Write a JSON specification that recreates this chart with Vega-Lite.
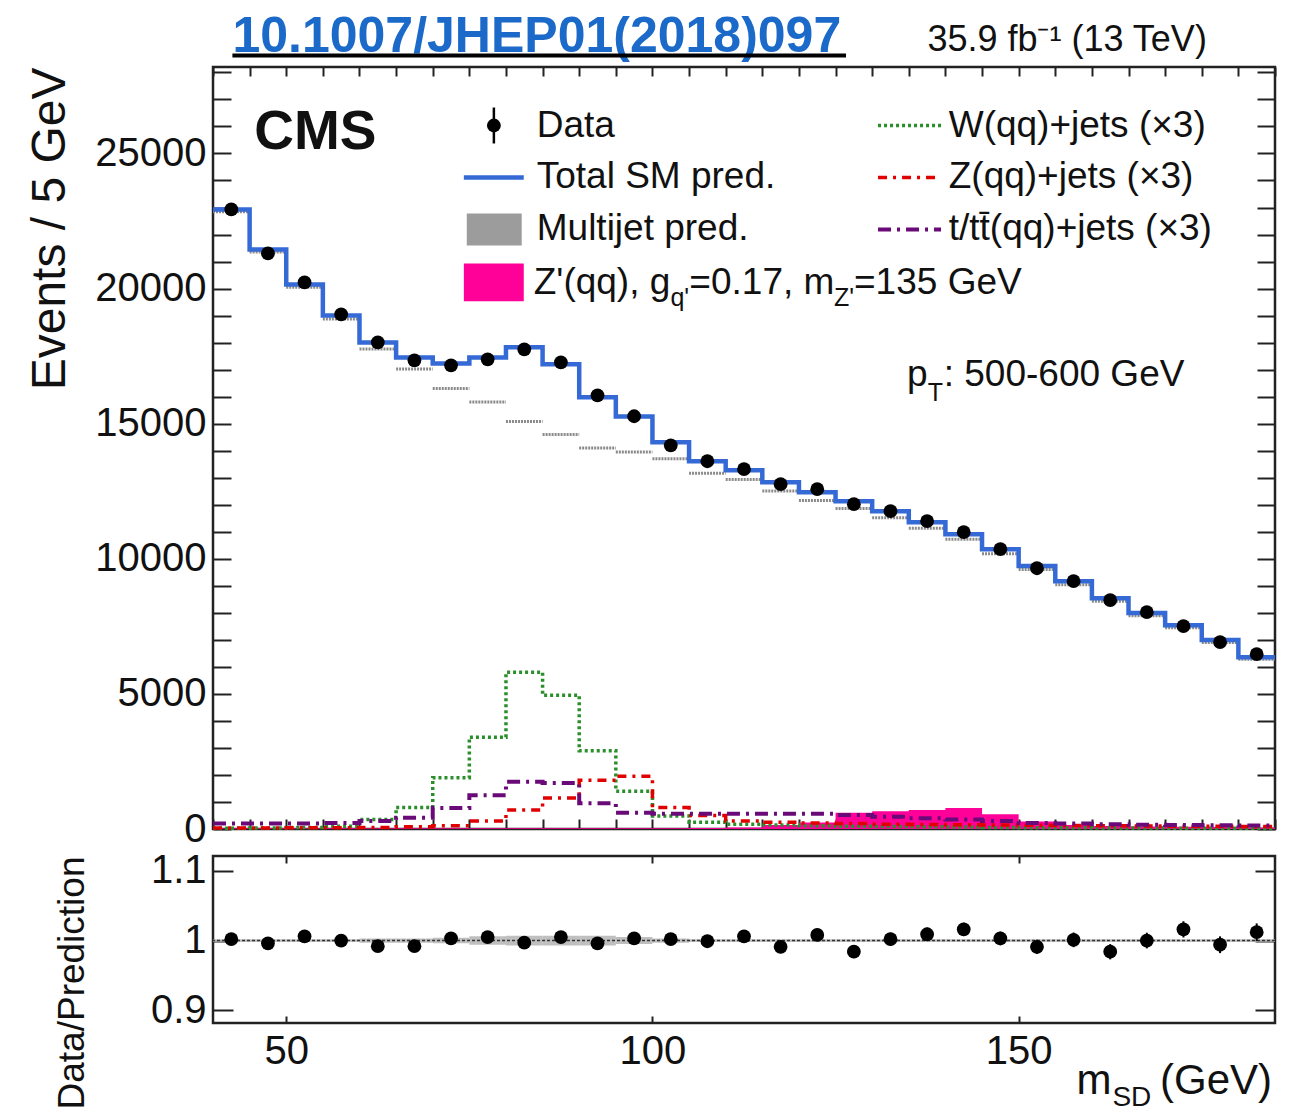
{
  "$schema": "https://vega.github.io/schema/vega-lite/v6.json",
  "padding": {"left": 24, "top": 10, "right": 5, "bottom": 0},
  "config": {
    "font": "Liberation Sans",
    "view": {"stroke": "#222", "strokeWidth": 2.5},
    "axis": {"domain": false, "grid": false, "tickColor": "#222", "tickWidth": 2, "labelFont": "Liberation Sans", "labelFontSize": 40, "labelColor": "#111", "titleFont": "Liberation Sans", "titleFontWeight": "normal", "titleColor": "#111", "labelFlush": false, "labelOverlap": false, "zindex": 1, "minExtent": 0},
    "text": {"color": "#111"}
  },
  "datasets": {
    "points": [
      {"m": 42.5, "n": 22930, "err": 151, "r": 1.002, "rerr": 0.0066},
      {"m": 47.5, "n": 21300, "err": 146, "r": 0.996, "rerr": 0.0069},
      {"m": 52.5, "n": 20230, "err": 142, "r": 1.006, "rerr": 0.0070},
      {"m": 57.5, "n": 19045, "err": 138, "r": 1.000, "rerr": 0.0073},
      {"m": 62.5, "n": 18010, "err": 134, "r": 0.992, "rerr": 0.0075},
      {"m": 67.5, "n": 17345, "err": 132, "r": 0.992, "rerr": 0.0076},
      {"m": 72.5, "n": 17160, "err": 131, "r": 1.003, "rerr": 0.0077},
      {"m": 77.5, "n": 17380, "err": 132, "r": 1.005, "rerr": 0.0078},
      {"m": 82.5, "n": 17750, "err": 133, "r": 0.997, "rerr": 0.0080},
      {"m": 87.5, "n": 17270, "err": 131, "r": 1.005, "rerr": 0.0080},
      {"m": 92.5, "n": 16050, "err": 127, "r": 0.996, "rerr": 0.0080},
      {"m": 97.5, "n": 15275, "err": 124, "r": 1.003, "rerr": 0.0081},
      {"m": 102.5, "n": 14200, "err": 119, "r": 1.002, "rerr": 0.0084},
      {"m": 107.5, "n": 13610, "err": 117, "r": 0.999, "rerr": 0.0086},
      {"m": 112.5, "n": 13315, "err": 115, "r": 1.006, "rerr": 0.0087},
      {"m": 117.5, "n": 12760, "err": 113, "r": 0.991, "rerr": 0.0089},
      {"m": 122.5, "n": 12575, "err": 112, "r": 1.008, "rerr": 0.0090},
      {"m": 127.5, "n": 12020, "err": 110, "r": 0.984, "rerr": 0.0091},
      {"m": 132.5, "n": 11760, "err": 108, "r": 1.002, "rerr": 0.0093},
      {"m": 137.5, "n": 11390, "err": 107, "r": 1.009, "rerr": 0.0094},
      {"m": 142.5, "n": 10985, "err": 105, "r": 1.016, "rerr": 0.0096},
      {"m": 147.5, "n": 10355, "err": 102, "r": 1.003, "rerr": 0.0098},
      {"m": 152.5, "n": 9650, "err": 98, "r": 0.991, "rerr": 0.0102},
      {"m": 157.5, "n": 9170, "err": 96, "r": 1.001, "rerr": 0.0105},
      {"m": 162.5, "n": 8470, "err": 92, "r": 0.984, "rerr": 0.0109},
      {"m": 167.5, "n": 8025, "err": 90, "r": 1.000, "rerr": 0.0112},
      {"m": 172.5, "n": 7510, "err": 87, "r": 1.016, "rerr": 0.0116},
      {"m": 177.5, "n": 6915, "err": 83, "r": 0.994, "rerr": 0.0120},
      {"m": 182.5, "n": 6470, "err": 80, "r": 1.012, "rerr": 0.0125}
    ],
    "hist": [
      {"lo": 40, "hi": 45, "total": 22930, "mj": 22840, "w": 30, "z": 40, "t": 200, "zp": 30, "ulo": 0.998, "uhi": 1.002},
      {"lo": 45, "hi": 50, "total": 21450, "mj": 21355, "w": 40, "z": 40, "t": 200, "zp": 30, "ulo": 0.998, "uhi": 1.002},
      {"lo": 50, "hi": 55, "total": 20150, "mj": 20050, "w": 60, "z": 50, "t": 200, "zp": 30, "ulo": 0.998, "uhi": 1.002},
      {"lo": 55, "hi": 60, "total": 19000, "mj": 18875, "w": 100, "z": 50, "t": 220, "zp": 30, "ulo": 0.998, "uhi": 1.002},
      {"lo": 60, "hi": 65, "total": 18000, "mj": 17765, "w": 350, "z": 60, "t": 300, "zp": 30, "ulo": 0.997, "uhi": 1.003},
      {"lo": 65, "hi": 70, "total": 17450, "mj": 17020, "w": 800, "z": 80, "t": 420, "zp": 30, "ulo": 0.997, "uhi": 1.003},
      {"lo": 70, "hi": 75, "total": 17230, "mj": 16300, "w": 1900, "z": 120, "t": 780, "zp": 30, "ulo": 0.996, "uhi": 1.004},
      {"lo": 75, "hi": 80, "total": 17450, "mj": 15800, "w": 3400, "z": 300, "t": 1250, "zp": 30, "ulo": 0.994, "uhi": 1.006},
      {"lo": 80, "hi": 85, "total": 17830, "mj": 15080, "w": 5800, "z": 700, "t": 1750, "zp": 30, "ulo": 0.993, "uhi": 1.007},
      {"lo": 85, "hi": 90, "total": 17200, "mj": 14600, "w": 4950, "z": 1150, "t": 1700, "zp": 30, "ulo": 0.993, "uhi": 1.007},
      {"lo": 90, "hi": 95, "total": 15980, "mj": 14100, "w": 2900, "z": 1800, "t": 950, "zp": 30, "ulo": 0.993, "uhi": 1.007},
      {"lo": 95, "hi": 100, "total": 15270, "mj": 13950, "w": 1400, "z": 1950, "t": 600, "zp": 30, "ulo": 0.995, "uhi": 1.005},
      {"lo": 100, "hi": 105, "total": 14310, "mj": 13700, "w": 480, "z": 800, "t": 560, "zp": 30, "ulo": 0.997, "uhi": 1.003},
      {"lo": 105, "hi": 110, "total": 13610, "mj": 13170, "w": 250, "z": 500, "t": 560, "zp": 40, "ulo": 0.998, "uhi": 1.002},
      {"lo": 110, "hi": 115, "total": 13280, "mj": 12930, "w": 180, "z": 300, "t": 560, "zp": 60, "ulo": 0.998, "uhi": 1.002},
      {"lo": 115, "hi": 120, "total": 12830, "mj": 12510, "w": 150, "z": 250, "t": 560, "zp": 150, "ulo": 0.998, "uhi": 1.002},
      {"lo": 120, "hi": 125, "total": 12460, "mj": 12160, "w": 120, "z": 220, "t": 560, "zp": 240, "ulo": 0.998, "uhi": 1.002},
      {"lo": 125, "hi": 130, "total": 12130, "mj": 11860, "w": 100, "z": 200, "t": 520, "zp": 600, "ulo": 0.998, "uhi": 1.002},
      {"lo": 130, "hi": 135, "total": 11760, "mj": 11520, "w": 90, "z": 180, "t": 450, "zp": 660, "ulo": 0.998, "uhi": 1.002},
      {"lo": 135, "hi": 140, "total": 11350, "mj": 11130, "w": 80, "z": 170, "t": 400, "zp": 700, "ulo": 0.998, "uhi": 1.002},
      {"lo": 140, "hi": 145, "total": 10910, "mj": 10720, "w": 70, "z": 160, "t": 350, "zp": 780, "ulo": 0.998, "uhi": 1.002},
      {"lo": 145, "hi": 150, "total": 10355, "mj": 10185, "w": 60, "z": 150, "t": 300, "zp": 550, "ulo": 0.998, "uhi": 1.002},
      {"lo": 150, "hi": 155, "total": 9730, "mj": 9600, "w": 50, "z": 140, "t": 220, "zp": 280, "ulo": 0.998, "uhi": 1.002},
      {"lo": 155, "hi": 160, "total": 9170, "mj": 9040, "w": 50, "z": 130, "t": 200, "zp": 150, "ulo": 0.998, "uhi": 1.002},
      {"lo": 160, "hi": 165, "total": 8540, "mj": 8425, "w": 40, "z": 120, "t": 180, "zp": 110, "ulo": 0.998, "uhi": 1.002},
      {"lo": 165, "hi": 170, "total": 7990, "mj": 7890, "w": 40, "z": 110, "t": 160, "zp": 90, "ulo": 0.998, "uhi": 1.002},
      {"lo": 170, "hi": 175, "total": 7540, "mj": 7450, "w": 30, "z": 100, "t": 150, "zp": 80, "ulo": 0.998, "uhi": 1.002},
      {"lo": 175, "hi": 180, "total": 6990, "mj": 6900, "w": 30, "z": 100, "t": 140, "zp": 70, "ulo": 0.998, "uhi": 1.002},
      {"lo": 180, "hi": 185, "total": 6360, "mj": 6280, "w": 30, "z": 90, "t": 130, "zp": 60, "ulo": 0.998, "uhi": 1.002},
      {"lo": 185, "hi": 190, "total": 6360, "mj": 6280, "w": 30, "z": 90, "t": 130, "zp": 60, "ulo": 0.998, "uhi": 1.002}
    ]
  },
  "bounds": "flush",
  "spacing": 27,
  "vconcat": [
    {
      "width": 1062,
      "height": 762,
      "resolve": {"axis": {"x": "independent", "y": "independent"}},
      "layer": [
        {
          "data": {"values": [{}]},
          "layer": [
            {
              "data": {"name": "hist"},
              "mark": {"type": "area", "interpolate": "step-after", "color": "#ff0099", "opacity": 1},
              "encoding": {
                "x": {"field": "lo", "type": "quantitative", "scale": {"domain": [40, 185], "nice": false, "zero": false},
                  "axis": {"orient": "bottom", "values": [40,45,50,55,60,65,70,75,80,85,90,95,100,105,110,115,120,125,130,135,140,145,150,155,160,165,170,175,180,185], "tickCount": 200, "labels": false, "title": null, "tickSize": -10,
                    "encode": {"ticks": {"y2": {"condition": {"test": "datum.value % 20 === 0", "value": -20}, "value": -10}}}}},
                "y": {"field": "zp", "type": "quantitative", "scale": {"domain": [0, 28200], "nice": false, "zero": false},
                  "axis": {"orient": "left", "values": [0,1000,2000,3000,4000,5000,6000,7000,8000,9000,10000,11000,12000,13000,14000,15000,16000,17000,18000,19000,20000,21000,22000,23000,24000,25000,26000,27000,28000], "tickCount": 200, "format": "d",
                    "labelExpr": "datum.value % 5000 === 0 ? datum.label : ''", "labelOverlap": false,
                    "tickSize": -18, "labelPadding": 25,
                    "title": "Events / 5 GeV", "titleFontSize": 48, "titleX": -163, "titleY": 0, "titleAngle": -90, "titleAlign": "right", "titleBaseline": "middle",
                    "encode": {"ticks": {"x2": {"condition": {"test": "datum.value % 5000 === 0", "value": 35}, "value": 18}}}}}
              }
            },
            {
              "data": {"name": "hist"},
              "transform": [{"filter": "datum.lo < 185"}],
              "mark": {"type": "rule", "color": "#8a8a8a", "strokeWidth": 3, "strokeDash": [2, 1]},
              "encoding": {
                "x": {"field": "lo", "type": "quantitative"},
                "x2": {"field": "hi"},
                "y": {"field": "mj", "type": "quantitative"}
              }
            },
            {
              "data": {"name": "hist"},
              "mark": {"type": "line", "interpolate": "step-after", "color": "#2a8f2a", "strokeWidth": 3.5, "strokeDash": [3, 3]},
              "encoding": {
                "x": {"field": "lo", "type": "quantitative"},
                "y": {"field": "w", "type": "quantitative"}
              }
            },
            {
              "data": {"name": "hist"},
              "mark": {"type": "line", "interpolate": "step-after", "color": "#e00000", "strokeWidth": 3.5, "strokeDash": [9, 6, 3, 6]},
              "encoding": {
                "x": {"field": "lo", "type": "quantitative"},
                "y": {"field": "z", "type": "quantitative"}
              }
            },
            {
              "data": {"name": "hist"},
              "mark": {"type": "line", "interpolate": "step-after", "color": "#6a0a78", "strokeWidth": 4, "strokeDash": [13, 6, 3, 6]},
              "encoding": {
                "x": {"field": "lo", "type": "quantitative"},
                "y": {"field": "t", "type": "quantitative"}
              }
            },
            {
              "data": {"name": "hist"},
              "mark": {"type": "line", "interpolate": "step-after", "color": "#356ad6", "strokeWidth": 4.5},
              "encoding": {
                "x": {"field": "lo", "type": "quantitative"},
                "y": {"field": "total", "type": "quantitative"}
              }
            },
            {
              "data": {"name": "points"},
              "mark": {"type": "errorbar", "color": "#000", "thickness": 2},
              "encoding": {
                "x": {"field": "m", "type": "quantitative", "title": null},
                "y": {"field": "n", "type": "quantitative", "title": "Events / 5 GeV"},
                "yError": {"field": "err"}
              }
            },
            {
              "mark": {"type": "text", "text": "10.1007/JHEP01(2018)097", "fontSize": 50, "fontWeight": "bold", "color": "#1b6ac9", "align": "left", "baseline": "alphabetic"},
              "encoding": {"x": {"datum": 42.65, "type": "quantitative"}, "y": {"datum": 28772, "type": "quantitative"}}
            },
            {
              "mark": {"type": "rule", "color": "#000", "strokeWidth": 4},
              "encoding": {"x": {"datum": 42.65, "type": "quantitative"}, "x2": {"datum": 126.43}, "y": {"datum": 28624, "type": "quantitative"}}
            },
            {
              "mark": {"type": "text", "text": "35.9 fb⁻¹ (13 TeV)", "fontSize": 36, "align": "right", "baseline": "alphabetic"},
              "encoding": {"x": {"datum": 175.7, "type": "quantitative"}, "y": {"datum": 28800, "type": "quantitative"}}
            },
            {
              "mark": {"type": "text", "text": "CMS", "fontSize": 55, "fontWeight": "bold", "align": "left", "baseline": "alphabetic"},
              "encoding": {"x": {"datum": 45.64, "type": "quantitative"}, "y": {"datum": 25148, "type": "quantitative"}}
            },
            {
              "mark": {"type": "rule", "color": "#000", "strokeWidth": 2.5},
              "encoding": {"x": {"datum": 78.35, "type": "quantitative"}, "y": {"datum": 25370, "type": "quantitative"}, "y2": {"datum": 26700}}
            },
            {
              "mark": {"type": "circle", "size": 190, "color": "#000", "opacity": 1},
              "encoding": {"x": {"datum": 78.35, "type": "quantitative"}, "y": {"datum": 26035, "type": "quantitative"}}
            },
            {
              "mark": {"type": "rule", "color": "#356ad6", "strokeWidth": 4.5},
              "encoding": {"x": {"datum": 74.25, "type": "quantitative"}, "x2": {"datum": 82.43}, "y": {"datum": 24112, "type": "quantitative"}}
            },
            {
              "mark": {"type": "rect", "color": "#9c9c9c", "opacity": 1},
              "encoding": {"x": {"datum": 74.65, "type": "quantitative"}, "x2": {"datum": 82.15}, "y": {"datum": 21598, "type": "quantitative"}, "y2": {"datum": 22781}}
            },
            {
              "mark": {"type": "rect", "color": "#ff0099", "opacity": 1},
              "encoding": {"x": {"datum": 74.25, "type": "quantitative"}, "x2": {"datum": 82.43}, "y": {"datum": 19527, "type": "quantitative"}, "y2": {"datum": 20932}}
            },
            {
              "mark": {"type": "rule", "color": "#2a8f2a", "strokeWidth": 3.5, "strokeDash": [3, 3]},
              "encoding": {"x": {"datum": 130.8, "type": "quantitative"}, "x2": {"datum": 139.4}, "y": {"datum": 26035, "type": "quantitative"}}
            },
            {
              "mark": {"type": "rule", "color": "#e00000", "strokeWidth": 3.5, "strokeDash": [9, 6, 3, 6]},
              "encoding": {"x": {"datum": 130.8, "type": "quantitative"}, "x2": {"datum": 139.4}, "y": {"datum": 24112, "type": "quantitative"}}
            },
            {
              "mark": {"type": "rule", "color": "#6a0a78", "strokeWidth": 4, "strokeDash": [13, 6, 3, 6]},
              "encoding": {"x": {"datum": 130.8, "type": "quantitative"}, "x2": {"datum": 139.4}, "y": {"datum": 22189, "type": "quantitative"}}
            },
            {
              "mark": {"type": "text", "text": "Data", "fontSize": 37, "align": "left", "baseline": "middle"},
              "encoding": {"x": {"datum": 84.2, "type": "quantitative"}, "y": {"datum": 26035, "type": "quantitative"}}
            },
            {
              "mark": {"type": "text", "text": "Total SM pred.", "fontSize": 37, "align": "left", "baseline": "middle"},
              "encoding": {"x": {"datum": 84.2, "type": "quantitative"}, "y": {"datum": 24112, "type": "quantitative"}}
            },
            {
              "mark": {"type": "text", "text": "Multijet pred.", "fontSize": 37, "align": "left", "baseline": "middle"},
              "encoding": {"x": {"datum": 84.2, "type": "quantitative"}, "y": {"datum": 22189, "type": "quantitative"}}
            },
            {
              "mark": {"type": "text", "text": "Z'(qq), g", "fontSize": 37, "align": "left", "baseline": "alphabetic"},
              "encoding": {"x": {"datum": 83.79, "type": "quantitative"}, "y": {"datum": 19785, "type": "quantitative"}}
            },
            {
              "mark": {"type": "text", "text": "q'", "fontSize": 25, "align": "left", "baseline": "alphabetic"},
              "encoding": {"x": {"datum": 102.45, "type": "quantitative"}, "y": {"datum": 19342, "type": "quantitative"}}
            },
            {
              "mark": {"type": "text", "text": "=0.17, m", "fontSize": 37, "align": "left", "baseline": "alphabetic"},
              "encoding": {"x": {"datum": 105.04, "type": "quantitative"}, "y": {"datum": 19785, "type": "quantitative"}}
            },
            {
              "mark": {"type": "text", "text": "Z'", "fontSize": 25, "align": "left", "baseline": "alphabetic"},
              "encoding": {"x": {"datum": 124.8, "type": "quantitative"}, "y": {"datum": 19342, "type": "quantitative"}}
            },
            {
              "mark": {"type": "text", "text": "=135 GeV", "fontSize": 37, "align": "left", "baseline": "alphabetic"},
              "encoding": {"x": {"datum": 127.52, "type": "quantitative"}, "y": {"datum": 19785, "type": "quantitative"}}
            },
            {
              "mark": {"type": "text", "text": "W(qq)+jets (×3)", "fontSize": 37, "align": "left", "baseline": "middle"},
              "encoding": {"x": {"datum": 140.45, "type": "quantitative"}, "y": {"datum": 26035, "type": "quantitative"}}
            },
            {
              "mark": {"type": "text", "text": "Z(qq)+jets (×3)", "fontSize": 37, "align": "left", "baseline": "middle"},
              "encoding": {"x": {"datum": 140.45, "type": "quantitative"}, "y": {"datum": 24112, "type": "quantitative"}}
            },
            {
              "mark": {"type": "text", "text": "t/tt̄(qq)+jets (×3)", "fontSize": 37, "align": "left", "baseline": "middle"},
              "encoding": {"x": {"datum": 140.45, "type": "quantitative"}, "y": {"datum": 22189, "type": "quantitative"}}
            },
            {
              "mark": {"type": "text", "text": "p", "fontSize": 37, "align": "left", "baseline": "alphabetic"},
              "encoding": {"x": {"datum": 134.74, "type": "quantitative"}, "y": {"datum": 16383, "type": "quantitative"}}
            },
            {
              "mark": {"type": "text", "text": "T", "fontSize": 25, "align": "left", "baseline": "alphabetic"},
              "encoding": {"x": {"datum": 137.6, "type": "quantitative"}, "y": {"datum": 15828, "type": "quantitative"}}
            },
            {
              "mark": {"type": "text", "text": ": 500-600 GeV", "fontSize": 37, "align": "left", "baseline": "alphabetic"},
              "encoding": {"x": {"datum": 139.77, "type": "quantitative"}, "y": {"datum": 16383, "type": "quantitative"}}
            }
          ]
        },
        {
          "data": {"name": "points"},
          "mark": {"type": "circle", "size": 190, "color": "#000", "opacity": 1},
          "encoding": {
            "x": {"field": "m", "type": "quantitative",
              "axis": {"orient": "top", "values": [40,45,50,55,60,65,70,75,80,85,90,95,100,105,110,115,120,125,130,135,140,145,150,155,160,165,170,175,180,185], "tickCount": 200, "labels": false, "title": null, "tickSize": -9,
                "encode": {"ticks": {"y2": {"condition": {"test": "datum.value % 20 === 0", "value": 18}, "value": 9}}}}},
            "y": {"field": "n", "type": "quantitative",
              "axis": {"orient": "right", "values": [0,1000,2000,3000,4000,5000,6000,7000,8000,9000,10000,11000,12000,13000,14000,15000,16000,17000,18000,19000,20000,21000,22000,23000,24000,25000,26000,27000,28000], "tickCount": 200, "labels": false, "title": null, "tickSize": -18,
                "encode": {"ticks": {"x2": {"condition": {"test": "datum.value % 5000 === 0", "value": -35}, "value": -18}}}}}
          }
        }
      ]
    },
    {
      "width": 1062,
      "height": 167,
      "resolve": {"axis": {"x": "independent", "y": "independent"}},
      "layer": [
        {
          "data": {"values": [{}]},
          "layer": [
            {
              "data": {"name": "hist"},
              "transform": [{"filter": "datum.lo < 185"}],
              "mark": {"type": "rect", "color": "#b4b4b4", "opacity": 0.85},
              "encoding": {
                "x": {"field": "lo", "type": "quantitative", "scale": {"domain": [40, 185], "nice": false, "zero": false},
                  "axis": {"orient": "bottom", "values": [50, 100, 150], "format": "d", "tickSize": -7, "labelPadding": 15, "title": null}},
                "x2": {"field": "hi"},
                "y": {"field": "ulo", "type": "quantitative", "scale": {"domain": [0.882, 1.121], "nice": false, "zero": false},
                  "axis": {"orient": "left", "values": [0.9, 1, 1.1], "format": "~g", "tickSize": -20, "labelPadding": 27, "labelOverlap": false,
                    "title": "Data/Prediction", "titleFontSize": 37, "titleX": -141, "titleY": 0, "titleAngle": -90, "titleAlign": "right", "titleBaseline": "middle"}},
                "y2": {"field": "uhi"}
              }
            },
            {
              "mark": {"type": "rule", "color": "#333", "strokeWidth": 1.5, "strokeDash": [3, 2]},
              "encoding": {"y": {"datum": 1, "type": "quantitative"}}
            },
            {
              "data": {"name": "points"},
              "mark": {"type": "errorbar", "color": "#000", "thickness": 2},
              "encoding": {
                "x": {"field": "m", "type": "quantitative", "title": null},
                "y": {"field": "r", "type": "quantitative", "title": "Data/Prediction"},
                "yError": {"field": "rerr"}
              }
            },
            {
              "mark": {"type": "text", "text": "m", "fontSize": 42, "align": "left", "baseline": "alphabetic"},
              "encoding": {"x": {"datum": 157.9, "type": "quantitative"}, "y": {"datum": 0.781, "type": "quantitative"}}
            },
            {
              "mark": {"type": "text", "text": "SD", "fontSize": 28, "align": "left", "baseline": "alphabetic"},
              "encoding": {"x": {"datum": 162.8, "type": "quantitative"}, "y": {"datum": 0.763, "type": "quantitative"}}
            },
            {
              "mark": {"type": "text", "text": "(GeV)", "fontSize": 42, "align": "right", "baseline": "alphabetic"},
              "encoding": {"x": {"datum": 184.6, "type": "quantitative"}, "y": {"datum": 0.781, "type": "quantitative"}}
            }
          ]
        },
        {
          "data": {"name": "points"},
          "mark": {"type": "circle", "size": 190, "color": "#000", "opacity": 1},
          "encoding": {
            "x": {"field": "m", "type": "quantitative",
              "axis": {"orient": "top", "values": [50, 100, 150], "labels": false, "title": null, "tickSize": -7}},
            "y": {"field": "r", "type": "quantitative",
              "axis": {"orient": "right", "values": [0.9, 1, 1.1], "labels": false, "title": null, "tickSize": -20}}
          }
        }
      ]
    }
  ]
}
